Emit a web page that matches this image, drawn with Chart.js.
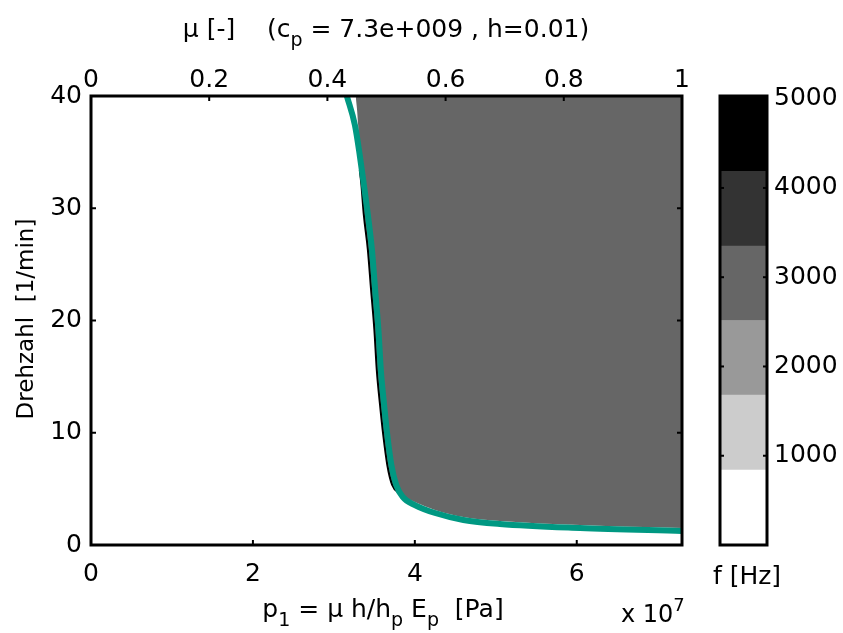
<!DOCTYPE html>
<html>
<head>
<meta charset="utf-8">
<script src="https://cdn.jsdelivr.net/npm/chart.js@4.4.1/dist/chart.umd.min.js"></script>
<style>
  body { margin: 0; background: #fff; }
  #wrap { position: relative; width: 843px; height: 633px; }
  #main, #bar { position: absolute; top: 0; }
  #main { left: 0; }
  #bar { left: 700px; }
</style>
</head>
<body>
<div id="wrap">
  <canvas id="main" width="843" height="633"></canvas>
  <canvas id="bar" width="143" height="633"></canvas>
</div>
<script>
/* data: p1 in units of 1e7 Pa, Drehzahl in 1/min */

// teal boundary curve
var curveX = [3.16, 3.26, 3.32, 3.37, 3.42, 3.47, 3.51, 3.55, 3.58, 3.62, 3.66, 3.71, 3.77, 3.85, 4.00, 4.25, 4.60, 5.05, 6.04, 7.30];
var curveY = [40.0, 37.4, 34.7, 32.1, 29.4, 26.3, 22.7, 19.2, 15.6, 12.5, 9.80, 7.13, 5.35, 4.28, 3.56, 2.85, 2.23, 1.87, 1.51, 1.25];

// edge of the 3000 Hz contour region
var edgeX = [3.27, 3.30, 3.31, 3.32, 3.34, 3.37, 3.42, 3.46, 3.50, 3.53, 3.57, 3.61, 3.66, 3.72, 3.82, 4.00, 4.25, 4.60, 5.05, 6.04, 7.30];
var edgeY = [40.0, 37.4, 35.2, 33.4, 32.1, 29.4, 26.3, 22.7, 19.2, 15.6, 12.5, 9.80, 7.13, 5.35, 4.54, 3.83, 3.12, 2.49, 2.14, 1.78, 1.51];

var xTicks = [0, 2, 4, 6];
var muTicks = [0, 0.2, 0.4, 0.6, 0.8, 1];
var yTicks = [0, 10, 20, 30, 40];

// colorbar levels (Hz)
var levelEdges = [0, 840, 1680, 2515, 3350, 4185, 5030];
var levelColors = ["#ffffff", "#cccccc", "#999999", "#666666", "#333333", "#000000"];
var barTicks = [1000, 2000, 3000, 4000, 5000];

var FONT = "DejaVu Sans";
var SIZE = 25;
Chart.defaults.font.family = FONT;
Chart.defaults.font.size = SIZE;
Chart.defaults.color = "#000";

/* box round the axes with inward tick marks */
var framePlugin = {
  id: "frame",
  afterDatasetsDraw: function (chart, args, opts) {
    var ctx = chart.ctx, a = chart.chartArea, len = opts.len || 5;
    ctx.save();
    ctx.strokeStyle = "#000";
    ctx.lineWidth = 2;
    (opts.marks || []).forEach(function (m) {
      var s = chart.scales[m.scale];
      s.ticks.forEach(function (t) {
        var p = s.getPixelForValue(t.value);
        ctx.beginPath();
        if (m.side == "bottom") { ctx.moveTo(p, a.bottom); ctx.lineTo(p, a.bottom - len); }
        if (m.side == "top") { ctx.moveTo(p, a.top); ctx.lineTo(p, a.top + len); }
        if (m.side == "left") { ctx.moveTo(a.left, p); ctx.lineTo(a.left + len, p); }
        if (m.side == "right") { ctx.moveTo(a.right, p); ctx.lineTo(a.right - len, p); }
        ctx.stroke();
      });
    });
    ctx.lineWidth = 3;
    ctx.strokeRect(a.left, a.top, a.right - a.left, a.bottom - a.top);
    ctx.restore();
  }
};

/* labels with sub/superscripts */
var textPlugin = {
  id: "texts",
  afterDraw: function (chart, args, opts) {
    var ctx = chart.ctx;
    (opts.items || []).forEach(function (it) {
      ctx.save();
      ctx.fillStyle = "#000";
      ctx.textBaseline = "alphabetic";
      ctx.translate(it.x, it.y);
      if (it.rotate) ctx.rotate(it.rotate);
      var w = 0;
      it.parts.forEach(function (p) {
        ctx.font = (p.size || it.size || SIZE) + "px '" + FONT + "'";
        p.w = ctx.measureText(p.t).width;
        w += p.w;
      });
      var x = it.align == "center" ? -w / 2 : 0;
      it.parts.forEach(function (p) {
        ctx.font = (p.size || it.size || SIZE) + "px '" + FONT + "'";
        ctx.fillText(p.t, x, p.dy || 0);
        x += p.w;
      });
      ctx.restore();
    });
  }
};

function points(xs, ys) {
  return xs.map(function (x, i) { return { x: x, y: ys[i] }; });
}

var noGrid = { display: false, drawTicks: false };

new Chart(document.getElementById("main"), {
  type: "line",
  data: {
    datasets: [
      {
        // teal boundary
        data: points(curveX, curveY),
        fill: false,
        borderColor: "#009882",
        borderWidth: 6,
        pointRadius: 0,
        cubicInterpolationMode: "monotone",
        order: 1
      },
      {
        // thin black contour line along the steep part of the edge
        data: points(edgeX.slice(3, 15), edgeY.slice(3, 15)),
        fill: false,
        borderColor: "#000",
        borderWidth: 2,
        pointRadius: 0,
        cubicInterpolationMode: "monotone",
        order: 2
      },
      {
        // 3000 Hz region
        data: points(edgeX, edgeY),
        fill: "end",
        backgroundColor: levelColors[3],
        borderWidth: 0,
        borderColor: "rgba(0,0,0,0)",
        pointRadius: 0,
        cubicInterpolationMode: "monotone",
        order: 3
      }
    ]
  },
  options: {
    responsive: false,
    animation: false,
    devicePixelRatio: 1,
    layout: { padding: { right: 161 } },
    plugins: {
      legend: { display: false },
      tooltip: { enabled: false },
      frame: {
        marks: [
          { scale: "x", side: "bottom" },
          { scale: "mu", side: "top" },
          { scale: "y", side: "left" },
          { scale: "y", side: "right" }
        ]
      },
      texts: {
        items: [
          { x: 386, y: 37, align: "center", parts: [
            { t: "\u03bc [-]    (c" }, { t: "p", dy: 9, size: 19 }, { t: " = 7.3e+009 , h=0.01)" }
          ] },
          { x: 383, y: 617, align: "center", parts: [
            { t: "p" }, { t: "1", dy: 9, size: 19 }, { t: " = \u03bc h/h" }, { t: "p", dy: 9, size: 19 },
            { t: " E" }, { t: "p", dy: 9, size: 19 }, { t: "  [Pa]" }
          ] },
          { x: 621, y: 622, size: 24, parts: [{ t: "x 10" }, { t: "7", dy: -11, size: 18 }] },
          { x: 33, y: 319, align: "center", size: 23, rotate: -Math.PI / 2, parts: [{ t: "Drehzahl  [1/min]" }] }
        ]
      }
    },
    scales: {
      x: {
        type: "linear", position: "bottom", min: 0, max: 7.3,
        afterBuildTicks: function (s) { s.ticks = xTicks.map(function (v) { return { value: v }; }); },
        afterFit: function (s) { s.height = 88; },
        grid: noGrid, border: { display: false },
        ticks: { padding: 14, maxRotation: 0, callback: function (v, i) { return String(xTicks[i]); } }
      },
      mu: {
        type: "linear", position: "top", min: 0, max: 1,
        afterBuildTicks: function (s) { s.ticks = muTicks.map(function (v) { return { value: v }; }); },
        afterFit: function (s) { s.height = 96; },
        grid: noGrid, border: { display: false },
        ticks: { padding: 1, maxRotation: 0, callback: function (v, i) { return String(muTicks[i]); } }
      },
      y: {
        type: "linear", position: "left", min: 0, max: 40,
        afterBuildTicks: function (s) { s.ticks = yTicks.map(function (v) { return { value: v }; }); },
        afterFit: function (s) { s.width = 91; },
        grid: noGrid, border: { display: false },
        ticks: { padding: 9, callback: function (v, i) { return String(yTicks[i]); } }
      }
    }
  },
  plugins: [framePlugin, textPlugin]
});

/* colorbar */
new Chart(document.getElementById("bar"), {
  type: "bar",
  data: {
    labels: ["f"],
    datasets: levelColors.map(function (c, i) {
      return {
        data: [[levelEdges[i], levelEdges[i + 1]]],
        backgroundColor: c,
        borderWidth: 0,
        grouped: false,
        barPercentage: 1,
        categoryPercentage: 1
      };
    })
  },
  options: {
    responsive: false,
    animation: false,
    devicePixelRatio: 1,
    layout: { padding: { left: 20, top: 96, bottom: 88 } },
    plugins: {
      legend: { display: false },
      tooltip: { enabled: false },
      frame: {
        len: 4,
        marks: [{ scale: "y", side: "left" }, { scale: "y", side: "right" }]
      },
      texts: { items: [{ x: 47, y: 584, align: "center", parts: [{ t: "f [Hz]" }] }] }
    },
    scales: {
      x: { display: false },
      y: {
        position: "right", min: 0, max: 5030,
        afterBuildTicks: function (s) { s.ticks = barTicks.map(function (v) { return { value: v }; }); },
        afterFit: function (s) { s.width = 76; },
        grid: noGrid, border: { display: false },
        ticks: { padding: 7, callback: function (v, i) { return String(barTicks[i]); } }
      }
    }
  },
  plugins: [framePlugin, textPlugin]
});
</script>
</body>
</html>
